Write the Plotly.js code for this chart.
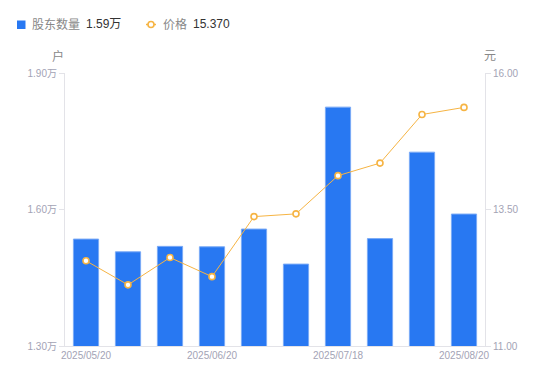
<!DOCTYPE html>
<html><head><meta charset="utf-8">
<script src="https://cdn.plot.ly/plotly-3.0.1.min.js"></script>
<style>body{margin:0;background:#fff}#c{width:550px;height:381px}</style>
</head><body><div id="c"></div>
<script>
var dates = ['2025/05/20','2025/05/30','2025/06/10','2025/06/20','2025/06/30','2025/07/10','2025/07/18','2025/07/31','2025/08/10','2025/08/20'];
var holders = [1.535, 1.507, 1.519, 1.518, 1.557, 1.480, 1.825, 1.536, 1.726, 1.590];
var price = [12.56, 12.12, 12.62, 12.27, 13.37, 13.42, 14.12, 14.35, 15.24, 15.37];
var tickShown = ['2025/05/20','2025/06/20','2025/07/18','2025/08/20'];
var leftTicks = [1.30, 1.60, 1.90];
var leftLabels = ['1.30万','1.60万','1.90万'];
var rightTicks = [11.00, 13.50, 16.00];
var rightLabels = ['11.00','13.50','16.00'];
var legendNames = ['股东数量','价格'];
var legendValues = ['1.59万','15.370'];

var F = '"Liberation Sans", "Noto Sans CJK SC", sans-serif';
var grey = '#a3a3b5';
var BLUE = '#2878f2', ORANGE = '#f6b443';

// pixel -> paper helpers (plot area: x 65..485, y 73..346)
function px(x){ return (x-65)/420; }
function py(y){ return (346-y)/273; }

var traces = [
  {type:'bar', x:dates, y:holders, name:legendNames[0], showlegend:false,
   marker:{color:BLUE, line:{color:'#7aaaf6', width:1}}, width:0.6, yaxis:'y', hoverinfo:'none'},
  {type:'scatter', mode:'lines+markers', x:dates, y:price, name:legendNames[1], showlegend:false,
   line:{color:ORANGE, width:1}, marker:{symbol:'circle', size:6, color:'#fff', line:{color:ORANGE, width:1.6}},
   yaxis:'y2', hoverinfo:'none'}
];

var ly = 24.5;
var layout = {
  width:550, height:381, margin:{l:65, r:65, t:73, b:35},
  paper_bgcolor:'#fff', plot_bgcolor:'#fff',
  font:{family:F, size:10, color:grey},
  showlegend:false,
  xaxis:{type:'category', range:[-0.5, 9.5], autorange:false, tickmode:'array', tickvals:tickShown, ticktext:tickShown,
         showline:true, linecolor:'#e3e3e8', linewidth:1, showgrid:false, zeroline:false,
         ticks:'', tickfont:{size:10, color:grey}, fixedrange:true},
  yaxis:{range:[1.30,1.90], tickmode:'array', tickvals:leftTicks, ticktext:leftLabels,
         showline:true, linecolor:'#e3e3e8', showgrid:false, zeroline:false,
         ticks:'outside', ticklen:5, tickcolor:'#e3e3e8', tickfont:{size:10, color:grey}},
  yaxis2:{range:[11,16], overlaying:'y', side:'right', tickmode:'array', tickvals:rightTicks, ticktext:rightLabels,
          showline:true, linecolor:'#e3e3e8', showgrid:false, zeroline:false,
          ticks:'outside', ticklen:5, tickcolor:'#e3e3e8', tickfont:{size:10, color:grey}},
  shapes:[
    {type:'rect', xref:'paper', yref:'paper', x0:px(17), x1:px(25.5), y0:py(20.5), y1:py(29), fillcolor:BLUE, line:{width:0}},
    {type:'line', xref:'paper', yref:'paper', x0:px(146), x1:px(156), y0:py(ly), y1:py(ly), line:{color:ORANGE, width:1.5}},
    {type:'circle', xref:'paper', yref:'paper', x0:px(148), x1:px(154), y0:py(ly-3), y1:py(ly+3), fillcolor:'#fff', line:{color:ORANGE, width:1.6}}
  ],
  annotations:[
    {text:'户', xref:'paper', yref:'paper', x:px(58), y:py(56), xanchor:'center', yanchor:'middle', showarrow:false, font:{size:12, color:'#888'}},
    {text:'元', xref:'paper', yref:'paper', x:px(490), y:py(56), xanchor:'center', yanchor:'middle', showarrow:false, font:{size:12, color:'#888'}},
    {text:legendNames[0], xref:'paper', yref:'paper', x:px(30), y:py(ly), xanchor:'left', yanchor:'middle', showarrow:false, font:{size:12, color:'#888'}},
    {text:legendValues[0], xref:'paper', yref:'paper', x:px(84), y:py(ly), xanchor:'left', yanchor:'middle', showarrow:false, font:{size:12, color:'#333'}},
    {text:legendNames[1], xref:'paper', yref:'paper', x:px(161), y:py(ly), xanchor:'left', yanchor:'middle', showarrow:false, font:{size:12, color:'#888'}},
    {text:legendValues[1], xref:'paper', yref:'paper', x:px(191), y:py(ly), xanchor:'left', yanchor:'middle', showarrow:false, font:{size:12, color:'#333'}}
  ]
};
Plotly.newPlot('c', traces, layout, {displayModeBar:false, staticPlot:true});
</script></body></html>
